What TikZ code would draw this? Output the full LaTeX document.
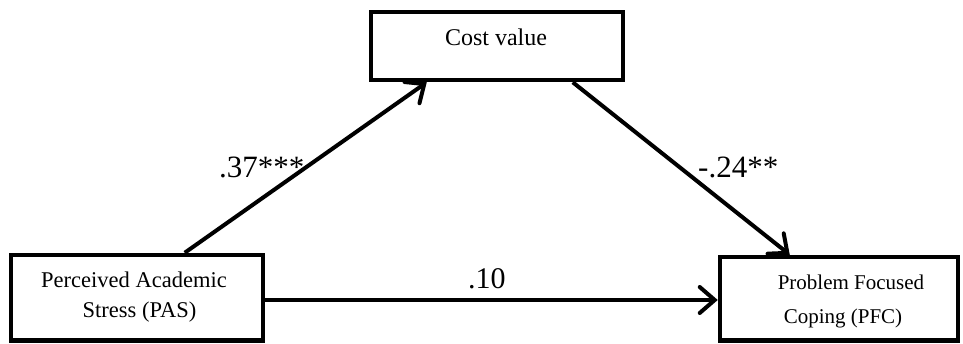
\documentclass[tikz,border=0pt]{standalone}
\usepackage{fontspec}
\setmainfont{Liberation Serif}
\usetikzlibrary{arrows.meta}
\begin{document}
\begin{tikzpicture}[x=1pt,y=-1pt,
  box/.style={draw, line width=4.5pt, inner sep=0pt, rectangle},
  arr/.style={line width=4pt, -{Straight Barb[length=15pt,width=26pt,line width=4pt,line cap=round]}},
  lbl/.style={inner sep=0pt, anchor=base west, font=\fontsize{31}{31}\selectfont},
  btxt/.style={inner sep=0pt, anchor=base, font=\fontsize{#1}{#1}\selectfont},
]
\useasboundingbox (0,0) rectangle (963,343);
% boxes
\node[box, minimum width=252pt, minimum height=68pt] (cv) at (497,46) {};
\node[box, minimum width=252pt, minimum height=85.5pt] (pas) at (137,297.75) {};
\node[box, minimum width=238pt, minimum height=83.5pt] (pfc) at (839,298.75) {};
% box texts
\node[btxt=24] (cvt) at (496,45) {Cost value};
\node[btxt=22.5] (past1) at (134,287) {Perceived Academic};
\node[btxt=22.5] (past2) at (139.5,317) {Stress (PAS)};
\node[btxt=21] (pfct1) at (851,289) {Problem Focused};
\node[btxt=21] (pfct2) at (843,323) {Coping (PFC)};
% connectors
\draw[arr] ([xshift=176pt]pas.north west) -- ([xshift=58pt]cv.south west);
\draw[arr] ([xshift=204pt]cv.south west) -- ([xshift=72pt]pfc.north west);
\draw[arr] ([yshift=-2.25pt]pas.east) -- ([yshift=-2.25pt]pas.east -| pfc.west);
% path labels
\node[lbl] (la) at (219,177) {.37***};
\node[lbl] (lb) at (698,177) {-.24**};
\node[lbl, font=\fontsize{30}{30}\selectfont] (lc) at (468,288) {.10};
\end{tikzpicture}
\end{document}
